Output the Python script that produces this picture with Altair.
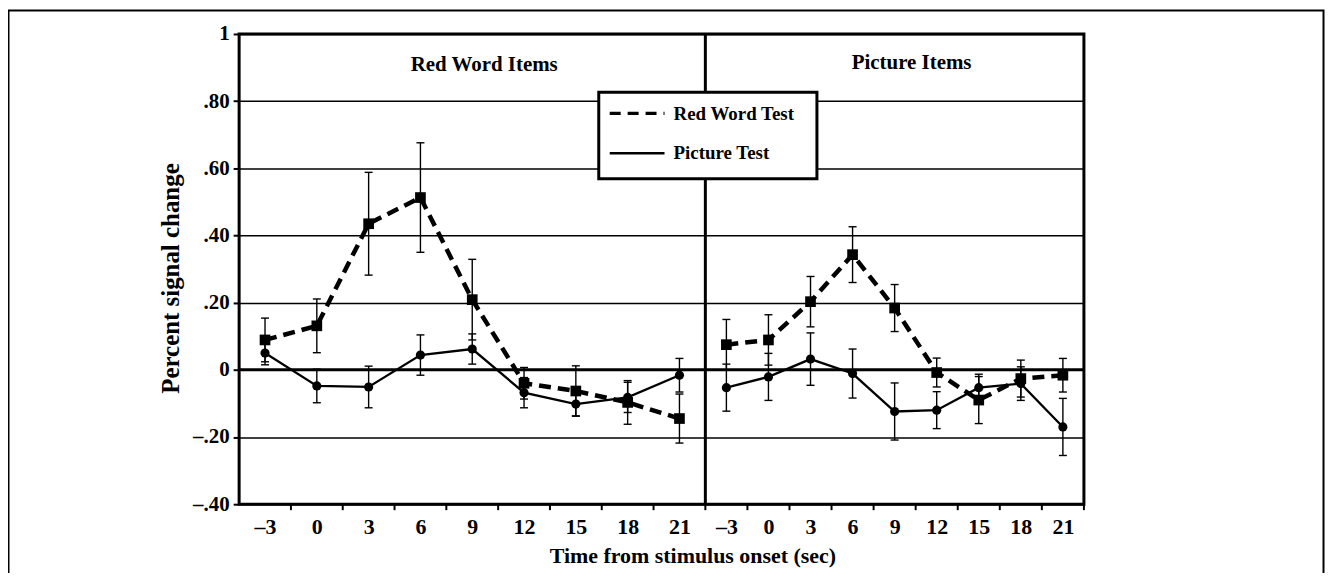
import json
import altair as alt
import pandas as pd

# ---------------- data ----------------
times = [-3, 0, 3, 6, 9, 12, 15, 18, 21]
time_labels = ["–3", "0", "3", "6", "9", "12", "15", "18", "21"]
panels = ["Red Word Items", "Picture Items"]
series = ["Red Word Test", "Picture Test"]

# Red Word Items panel
rw_redword_mean = [0.089, 0.131, 0.435, 0.513, 0.209, -0.040, -0.063, -0.097, -0.145]
rw_redword_se = [0.065, 0.080, 0.153, 0.163, 0.120, 0.047, 0.075, 0.065, 0.073]
rw_picture_mean = [0.050, -0.048, -0.051, 0.044, 0.062, -0.068, -0.102, -0.082, -0.016]
rw_picture_se = [0.035, 0.050, 0.062, 0.060, 0.045, 0.045, 0.035, 0.045, 0.050]

# Picture Items panel
pi_redword_mean = [0.075, 0.089, 0.203, 0.343, 0.184, -0.008, -0.090, -0.026, -0.016]
pi_redword_se = [0.075, 0.075, 0.075, 0.083, 0.070, 0.043, 0.070, 0.055, 0.050]
pi_picture_mean = [-0.053, -0.021, 0.032, -0.011, -0.124, -0.120, -0.053, -0.041, -0.170]
pi_picture_se = [0.070, 0.070, 0.078, 0.073, 0.085, 0.055, 0.040, 0.050, 0.085]

y_ticks = [-0.4, -0.2, 0, 0.2, 0.4, 0.6, 0.8, 1.0]
y_tick_labels = ["–.40", "–.20", "0", ".20", ".40", ".60", ".80", "1"]

x_title = "Time from stimulus onset (sec)"
y_title = "Percent signal change"

# ---------------- table ----------------
values = {
    (0, 0): (rw_redword_mean, rw_redword_se),
    (0, 1): (rw_picture_mean, rw_picture_se),
    (1, 0): (pi_redword_mean, pi_redword_se),
    (1, 1): (pi_picture_mean, pi_picture_se),
}
n = len(times)
rows = []
for p, panel in enumerate(panels):
    for s, name in enumerate(series):
        means, ses = values[(p, s)]
        for i, t in enumerate(times):
            m, se = means[i], ses[i]
            rows.append(dict(panel=panel, series=name, time=t, pos=p * n + i + 0.5,
                             mean=m, lo=m - se, hi=m + se, key=f"{panel}|{name}"))
df = pd.DataFrame(rows)

FONT = "Liberation Serif"
W_LEFT, W_RIGHT, H = 468, 380, 472

xscale = alt.Scale(domain=[0, n, 2 * n], range=[0, W_LEFT, W_LEFT + W_RIGHT], nice=False, zero=False)
yscale = alt.Scale(domain=[-0.4, 1.0], nice=False, zero=False)

x_label_expr = f"{json.dumps(time_labels, ensure_ascii=False)}[floor(datum.value) % {n}]"
y_label_expr = f"{json.dumps(y_tick_labels, ensure_ascii=False)}[round((datum.value + 0.4) * 5)]"

xaxis = alt.Axis(values=[k + 0.5 for k in range(2 * n)], labelExpr=x_label_expr, ticks=False, tickSize=0,
                 domain=False, grid=False, labelPadding=29, labelBaseline="alphabetic",
                 labelFont=FONT, labelFontSize=22, labelFontWeight="bold", labelColor="black",
                 title=x_title, titleFont=FONT, titleFontSize=22, titleFontWeight="bold", titleColor="black",
                 titleX=455, titleY=59, titleBaseline="alphabetic", titleAlign="center")
yaxis = alt.Axis(values=y_ticks, labelExpr=y_label_expr, ticks=True, tickSize=6, tickWidth=2,
                 tickColor="black", domain=False, grid=True, gridColor="black", gridWidth=1.5,
                 gridOpacity=1, labelPadding=4, labelFont=FONT, labelFontSize=21,
                 labelFontWeight="bold", labelColor="black",
                 title=y_title, titleFont=FONT, titleFontSize=25, titleFontWeight="bold",
                 titleColor="black", titleX=-61, titleY=245, titleAngle=-90,
                 titleBaseline="alphabetic", titleAlign="center")


def X(field):
    return alt.X(f"{field}:Q", scale=xscale, axis=xaxis)


def Y(field):
    return alt.Y(f"{field}:Q", scale=yscale, axis=yaxis)


base = alt.Chart(df)
one = alt.Chart(pd.DataFrame({"z": [0]}))

# zero line
zero_line = one.mark_rule(color="black", strokeWidth=3).encode(y=Y("z"))

# panel divider
div_df = pd.DataFrame({"b": [n]})
divider = alt.Chart(div_df).mark_rule(color="black", strokeWidth=3).encode(x=X("b"))

# x tick marks at band boundaries
bounds_df = pd.DataFrame({"b": list(range(1, 2 * n + 1))})
xticks = alt.Chart(bounds_df).mark_rule(color="black", strokeWidth=2).encode(
    x=X("b"), y=alt.value(H), y2=alt.value(H + 6))

# error bars
err = base.mark_rule(color="black", strokeWidth=1.4).encode(x=X("pos"), y=Y("lo"), y2="hi")
cap_lo = base.mark_rule(color="black", strokeWidth=1.4, xOffset=-4, x2Offset=4).encode(
    x=X("pos"), x2="pos", y=Y("lo"))
cap_hi = base.mark_rule(color="black", strokeWidth=1.4, xOffset=-4, x2Offset=4).encode(
    x=X("pos"), x2="pos", y=Y("hi"))

red = base.transform_filter(alt.datum.series == series[0])
pic = base.transform_filter(alt.datum.series == series[1])

red_line = red.mark_line(color="black", strokeWidth=4.5, strokeDash=[12, 7]).encode(
    x=X("pos"), y=Y("mean"), detail="key:N", order="pos:Q")
pic_line = pic.mark_line(color="black", strokeWidth=2.3).encode(
    x=X("pos"), y=Y("mean"), detail="key:N", order="pos:Q")
red_pts = red.mark_point(shape="square", filled=True, color="black", size=115, opacity=1).encode(
    x=X("pos"), y=Y("mean"))
pic_pts = pic.mark_point(shape="circle", filled=True, color="black", size=85, opacity=1).encode(
    x=X("pos"), y=Y("mean"))

# panel titles
t1 = one.mark_text(font=FONT, fontSize=21, fontWeight="bold", color="black", align="center",
                   baseline="alphabetic").encode(x=alt.value(246), y=alt.value(36.7),
                                                  text=alt.value(panels[0]))
t2 = one.mark_text(font=FONT, fontSize=21, fontWeight="bold", color="black", align="center",
                   baseline="alphabetic").encode(x=alt.value(675), y=alt.value(35.5),
                                                  text=alt.value(panels[1]))

# legend (drawn manually)
leg_box = one.mark_rect(fill="white", stroke="black", strokeWidth=3).encode(
    x=alt.value(361), x2=alt.value(580), y=alt.value(58.4), y2=alt.value(145.4))
leg_l1 = one.mark_rule(color="black", strokeWidth=3.5, strokeDash=[11, 7]).encode(
    x=alt.value(372), x2=alt.value(427), y=alt.value(79.7))
leg_l2 = one.mark_rule(color="black", strokeWidth=2.5).encode(
    x=alt.value(372), x2=alt.value(427), y=alt.value(119.7))
leg_t1 = one.mark_text(font=FONT, fontSize=19, fontWeight="bold", color="black", align="left",
                       baseline="alphabetic").encode(x=alt.value(436), y=alt.value(86),
                                                      text=alt.value(series[0]))
leg_t2 = one.mark_text(font=FONT, fontSize=19, fontWeight="bold", color="black", align="left",
                       baseline="alphabetic").encode(x=alt.value(436), y=alt.value(126),
                                                      text=alt.value(series[1]))

# outer figure frame
frame = one.mark_rect(fill="white", fillOpacity=0, stroke="black", strokeWidth=2).encode(
    x=alt.value(-231.5), x2=alt.value(1088.5), y=alt.value(-23.5), y2=alt.value(620))

chart = alt.layer(
    zero_line, divider, xticks, err, cap_lo, cap_hi, red_line, pic_line, red_pts, pic_pts,
    t1, t2, leg_box, leg_l1, leg_l2, leg_t1, leg_t2, frame
).properties(
    width=W_LEFT + W_RIGHT, height=H,
    padding={"left": 232, "top": 25, "right": 243, "bottom": 68},
    autosize=alt.AutoSizeParams(type="none"),
    background="white",
).configure_view(stroke="black", strokeWidth=3)

chart.save("out.html", embed_options={"renderer": "svg", "actions": False})
